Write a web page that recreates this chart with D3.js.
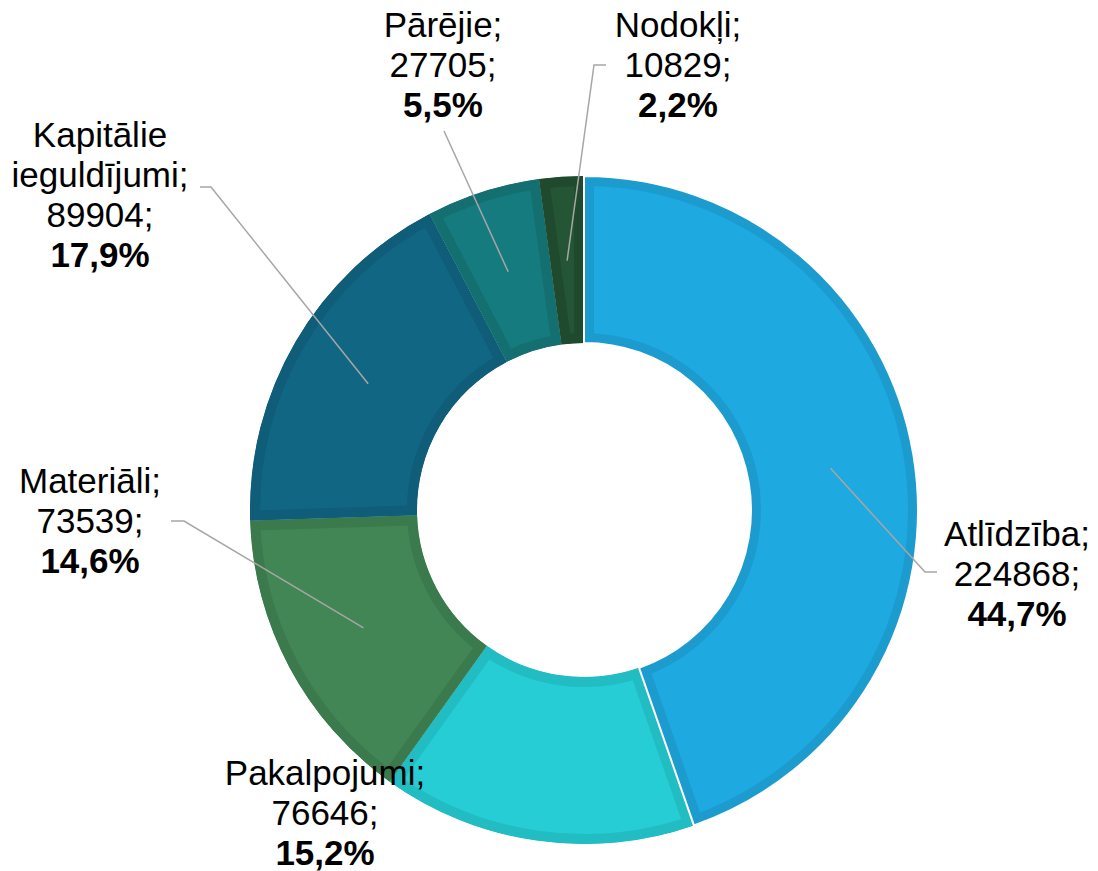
<!DOCTYPE html>
<html>
<head>
<meta charset="utf-8">
<script src="https://cdn.jsdelivr.net/npm/d3@7"></script>
<style>
  body { margin: 0; background: #fff; }
  text { font-family: "Liberation Sans", Arial, sans-serif; fill: #000; }
</style>
</head>
<body>
<div id="chart"></div>
<script>
"use strict";

// == DATA ==
var categories = ["Atlīdzība", "Pakalpojumi", "Materiāli", "Kapitālie ieguldījumi", "Pārējie", "Nodokļi"];
var nameLines = [["Atlīdzība;"], ["Pakalpojumi;"], ["Materiāli;"], ["Kapitālie", "ieguldījumi;"], ["Pārējie;"], ["Nodokļi;"]];
var values = [224868, 76646, 73539, 89904, 27705, 10829];
var percents = ["44,7%", "15,2%", "14,6%", "17,9%", "5,5%", "2,2%"];

var fills = ["#1FA9E1", "#26CDD4", "#418654", "#106683", "#167B7E", "#245534"];
var borders = ["#1C9BCF", "#22BCC3", "#3B7A4C", "#0F5D78", "#147070", "#1F4A2D"];

// label layout: text centre x, first baseline y, elbow point, leader end x
var labelPos = [
  { x: 1017, y: 546, elbow: [925, 572], end: 937 },
  { x: 325, y: 785, elbow: null, end: null },
  { x: 90, y: 493, elbow: [184, 521], end: 171 },
  { x: 100, y: 147, elbow: [211, 187], end: 200 },
  { x: 443, y: 37, elbow: [444, 131], end: 444 },
  { x: 678, y: 37, elbow: [594, 65], end: 606 }
];

var width = 1098, height = 871;
var cx = 584, cy = 510, outerR = 334, innerR = 167, anchorR = 250;

var svg = d3.select("#chart").append("svg")
  .attr("width", width).attr("height", height);

var data = categories.map(function (c, i) {
  return { name: c, value: values[i], i: i };
});

var pie = d3.pie().sort(null).value(function (d) { return d.value; });
var arcs = pie(data);

var arc = d3.arc().innerRadius(innerR).outerRadius(outerR);

var g = svg.append("g").attr("transform", "translate(" + cx + "," + cy + ")");

var defs = svg.append("defs");
arcs.forEach(function (a, i) {
  defs.append("clipPath").attr("id", "clip" + i)
    .append("path").attr("d", arc(a));
});

g.selectAll("path.slice")
  .data(arcs)
  .enter()
  .append("path")
  .attr("class", "slice")
  .attr("d", arc)
  .attr("clip-path", function (d, i) { return "url(#clip" + i + ")"; })
  .style("fill", function (d, i) { return fills[i]; })
  .style("stroke", function (d, i) { return borders[i]; })
  .style("stroke-width", 20);

// white outline around the largest slice
g.append("path")
  .attr("d", arc(arcs[0]))
  .style("fill", "none")
  .style("stroke", "#fff")
  .style("stroke-width", 2);

// == LEADER LINES ==
arcs.forEach(function (a, i) {
  var lp = labelPos[i];
  if (!lp.elbow) return;
  var mid = (a.startAngle + a.endAngle) / 2;
  var px = cx + anchorR * Math.sin(mid);
  var py = cy - anchorR * Math.cos(mid);
  var pts = [[px, py], lp.elbow, [lp.end, lp.elbow[1]]];
  svg.append("path")
    .attr("d", d3.line()(pts))
    .style("fill", "none")
    .style("stroke", "#A6A6A6")
    .style("stroke-width", 1.5);
});

// == LABELS ==
var lineH = 40;
arcs.forEach(function (a, i) {
  var lp = labelPos[i];
  var lines = nameLines[i].concat([values[i] + ";"]);
  var t = svg.append("text")
    .attr("text-anchor", "middle")
    .style("font-size", "35px");
  lines.forEach(function (s, k) {
    t.append("tspan").attr("x", lp.x).attr("y", lp.y + k * lineH).text(s);
  });
  t.append("tspan").attr("x", lp.x).attr("y", lp.y + lines.length * lineH)
    .style("font-weight", "bold").text(percents[i]);
});
</script>
</body>
</html>
